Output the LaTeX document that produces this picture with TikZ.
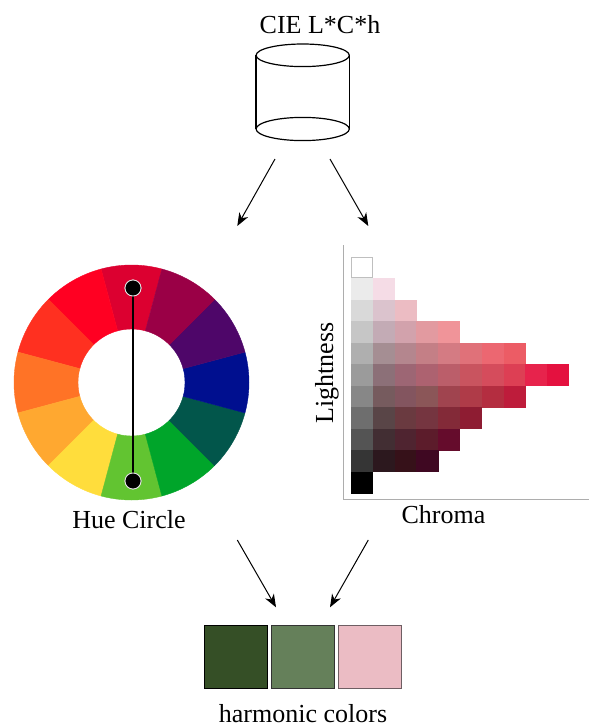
\documentclass[tikz,border=0pt]{standalone}
\usepackage{fontspec}
\setmainfont{Liberation Serif}
\usetikzlibrary{arrows.meta}
\begin{document}
\begin{tikzpicture}[x=1pt,y=-1pt,
  lbl/.style={font=\fontsize{26}{30}\selectfont, inner sep=0pt, anchor=base},
  arr/.style={line width=1pt, -{Stealth[length=13pt,width=10pt,inset=4pt]}},
  dot/.style={circle, fill=black, draw=white!80!gray, line width=0.8pt, minimum size=16pt, inner sep=0pt},
  swatch/.style={rectangle, draw=black, line width=1pt, minimum width=63pt, minimum height=63pt, inner sep=0pt},
  cell/.style={line width=0pt}
]
\useasboundingbox (0,0) rectangle (589,728);

% ---------- Title and cylinder ----------
\node[lbl] (title) at (320,33) {CIE L*C*h};
\draw[line width=1.2pt] (256,55.3) -- (256,129);
\draw[line width=1.2pt] (349.3,55.3) -- (349.3,129);
\draw[line width=1.2pt] (302.7,55.3) ellipse [x radius=46.6, y radius=11.3];
\draw[line width=1.2pt] (302.7,129) ellipse [x radius=46.6, y radius=11.6];
\fill[white] (257,129) rectangle (348,129.1);

% ---------- arrows top ----------
\coordinate (a1s) at (275,159);
\coordinate (a1e) at (237.3,226);
\coordinate (a2s) at (330,159);
\coordinate (a2e) at (368.3,226);
\draw[arr] (a1s) -- (a1e);
\draw[arr] (a2s) -- (a2e);

% ---------- Hue circle ----------
\begin{scope}[shift={(131.5,382.5)}, yscale=-1]
\foreach \a/\c in {90/DC0030,120/FF0022,150/FF3020,180/FF7326,210/FFA830,240/FFDD3C,
                   270/62C431,300/00A52A,330/02564B,360/000F8F,30/4E0669,60/9A0046}{
  \definecolor{segc}{HTML}{\c}
  \filldraw[fill=segc, draw=segc, line width=0.4pt]
    (\a-15:53.5) arc[start angle=\a-15, end angle=\a+15, radius=53.5]
    -- (\a+15:117.5) arc[start angle=\a+15, end angle=\a-15, radius=117.5] -- cycle;
}
\end{scope}
\node[dot] (d1) at (133,288) {};
\node[dot] (d2) at (133,481) {};
\draw[line width=1.5pt] (d1) -- (d2);
\node[dot] at (d1) {};
\node[dot] at (d2) {};
\node[lbl] (huelbl) at (129,528.3) {Hue Circle};

% ---------- Chroma / lightness chart ----------
\def\cw{21.8}
\def\ch{21.5}
\def\xo{351}
\def\yo{256.7}
\newcommand{\chartrow}[2]{%
  \foreach \c [count=\i from 0] in {#2}{
    \definecolor{cellc}{HTML}{\c}
    \fill[cellc] ({\xo+\i*\cw},{\yo+#1*\ch}) rectangle ++(\cw+0.3,\ch+0.3);
  }}
\chartrow{1}{EBEBEB,F5DCE6}
\chartrow{2}{D9D9D9,DBC3CD,ECBCC3}
\chartrow{3}{C6C6C6,C3ABB5,D2A2AC,E29AA0,F09499}
\chartrow{4}{AFAFAF,A58E93,B4868E,C47F86,D47B83,E07179,EC6771,EC5C65}
\chartrow{5}{9B9B9B,8C7078,9D6674,AD6270,BB5E6A,C9545F,D54C5C,DD3F54,E7234C,E4113F}
\chartrow{6}{878787,765B5E,83555F,8B5658,A0444F,AF3B48,B42D40,BE1C3B}
\chartrow{7}{6E6E6E,594547,6A3A40,753540,832A38,8E1C32}
\chartrow{8}{545454,422E33,4F2430,5C1C2B,650C2C}
\chartrow{9}{353535,2C181E,361119,3F0822}
\chartrow{10}{000000}
\draw[draw=black!25, line width=1pt] (\xo+0.5,\yo+0.5) rectangle ++(\cw-1,\ch-1);
\draw[draw=black!32, line width=1.5pt] (343.3,245) -- (343.3,499.3) -- (589,499.3);
\node[lbl, rotate=90] (lightlbl) at (333,373) {Lightness};
\node[lbl] (chromalbl) at (443.5,523) {Chroma};

% ---------- arrows bottom ----------
\coordinate (b1s) at (237.3,540);
\coordinate (b1e) at (276,607.3);
\coordinate (b2s) at (368.3,540);
\coordinate (b2e) at (330,607.3);
\draw[arr] (b1s) -- (b1e);
\draw[arr] (b2s) -- (b2e);

% ---------- harmonic swatches ----------
\definecolor{sw1}{HTML}{354F26}
\definecolor{sw2}{HTML}{65805A}
\definecolor{sw3}{HTML}{EBBCC4}
\definecolor{sw3b}{HTML}{6E5E63}
\node[swatch, fill=sw1] (s1) at (235.8,657.3) {};
\node[swatch, fill=sw2, draw=black!80] (s2) at (302.5,657.3) {};
\node[swatch, fill=sw3, draw=sw3b] (s3) at (369.5,657.3) {};
\node[lbl] (harmlbl) at (303,722) {harmonic colors};
\end{tikzpicture}
\end{document}
